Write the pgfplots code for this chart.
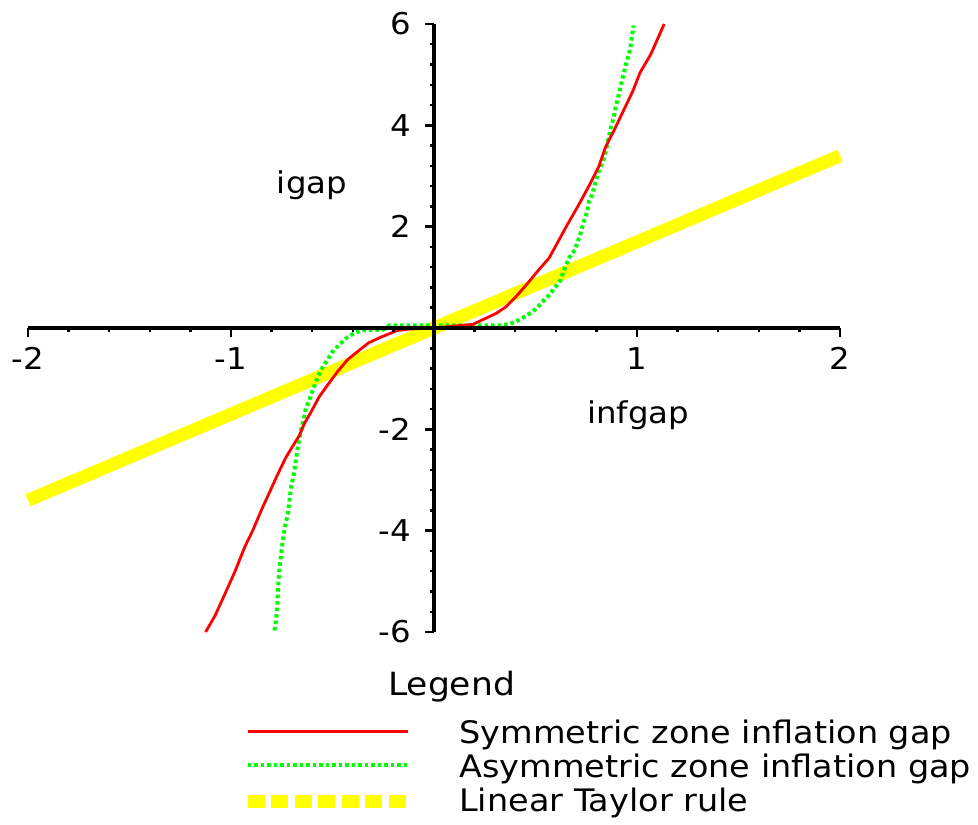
\documentclass[border=0pt]{standalone}
\usepackage{fontspec}
\setmainfont{DejaVu Sans}[FakeStretch=1.08]
\usepackage{pgfplots}
\pgfplotsset{compat=1.18}
\pgfplotsset{legend image code/.code={\draw[#1] (0pt,4pt) -- (160pt,4pt);}}
\definecolor{mred}{RGB}{255,0,0}
\definecolor{mgreen}{RGB}{0,255,0}
\definecolor{myellow}{RGB}{255,255,0}
\newcommand{\bigfont}{\fontsize{30}{36}\selectfont}
\newcommand{\legfont}{\fontsize{31}{36}\selectfont}
\begin{document}
\begin{tikzpicture}
\useasboundingbox (-434pt,328pt) rectangle (544pt,-497pt);
\begin{axis}[
  anchor=origin, at={(0pt,0pt)},
  x=203pt, y=50.67pt,
  xmin=-2, xmax=2, ymin=-6, ymax=6,
  axis lines=middle,
  axis line style={-, line width=3.5pt, black},
  axis on top,
  clip=false,
  xtick={-2,-1,0,1,2}, ytick={-6,-4,-2,0,2,4,6},
  minor xtick={-2,-1.8,...,2}, minor ytick={-6,-5.6,...,6},
  tick align=outside,
  major tick length=9pt, minor tick length=4pt,
  every tick/.style={black, line width=2.5pt},
  /pgf/number format/assume math mode=true,
  xticklabel style={font=\bigfont, inner sep=0pt, anchor=north, yshift=-10pt},
  yticklabel style={font=\bigfont, inner sep=0pt, anchor=east, xshift=-14pt},
  legend style={at={(axis cs:-0.95,-7.74)}, anchor=north west, draw=none, fill=none,
    inner sep=0pt, font=\legfont, row sep=4pt, column sep=45pt,
    nodes={inner sep=0pt, text height=23pt, text depth=7pt}},
  legend cell align=left,
  reverse legend,
]
\addplot[myellow, line width=13pt,
  legend image code/.code={\draw[myellow, line width=13pt, dash pattern=on 17pt off 6.5pt] (0pt,2pt) -- (160pt,2pt);}]
  coordinates {(-2,-3.4) (2,3.4)};
\addlegendentry{Linear Taylor rule}
\addplot[mgreen, line width=4pt, dash pattern=on 3.5pt off 3pt]
  coordinates {
  (-0.786,-5.97) (-0.778,-5.78) (-0.773,-5.52) (-0.769,-5.25) (-0.766,-4.99)
  (-0.761,-4.73) (-0.753,-4.46) (-0.745,-4.20) (-0.733,-3.90) (-0.720,-3.67)
  (-0.712,-3.41) (-0.704,-3.14) (-0.692,-2.91) (-0.680,-2.61) (-0.671,-2.35)
  (-0.655,-2.02) (-0.641,-1.79) (-0.631,-1.58) (-0.615,-1.43) (-0.598,-1.23)
  (-0.576,-1.00) (-0.557,-0.83) (-0.530,-0.66) (-0.500,-0.47) (-0.476,-0.37)
  (-0.451,-0.27) (-0.427,-0.185) (-0.395,-0.105) (-0.36,-0.05) (-0.25,-0.03)
  (-0.22,0.05) (0.33,0.05) (0.372,0.08) (0.404,0.125) (0.437,0.20)
  (0.461,0.26) (0.486,0.32) (0.510,0.41) (0.535,0.52) (0.567,0.65)
  (0.600,0.82) (0.624,0.95) (0.641,1.15) (0.665,1.38) (0.694,1.54)
  (0.711,1.74) (0.722,1.87) (0.738,2.10) (0.755,2.30) (0.763,2.50)
  (0.779,2.63) (0.795,2.87) (0.812,3.10) (0.836,3.33) (0.852,3.59)
  (0.869,3.92) (0.885,4.15) (0.896,4.38) (0.913,4.65) (0.926,4.88)
  (0.942,5.14) (0.950,5.27) (0.967,5.50) (0.975,5.74) (0.983,5.97)};
\addlegendentry{Asymmetric zone inflation gap}
\addplot[mred, line width=2.8pt]
  coordinates {
  (-1.125,-6.0) (-1.079,-5.68) (-1.030,-5.25) (-0.981,-4.81) (-0.932,-4.32)
  (-0.892,-3.99) (-0.851,-3.60) (-0.810,-3.24) (-0.769,-2.88) (-0.729,-2.55)
  (-0.688,-2.28) (-0.663,-2.12) (-0.639,-1.89) (-0.606,-1.66) (-0.566,-1.36)
  (-0.525,-1.13) (-0.476,-0.865) (-0.427,-0.63) (-0.378,-0.47) (-0.321,-0.29)
  (-0.264,-0.185) (-0.215,-0.105) (-0.182,-0.05) (-0.12,-0.02) (0,0)
  (0.10,0.04) (0.19,0.07) (0.249,0.18) (0.307,0.29) (0.355,0.42)
  (0.404,0.62) (0.461,0.88) (0.510,1.12) (0.567,1.38) (0.616,1.74)
  (0.657,2.04) (0.714,2.44) (0.763,2.80) (0.812,3.19) (0.844,3.56)
  (0.893,3.95) (0.937,4.32) (0.980,4.68) (1.015,5.04) (1.069,5.41)
  (1.134,6.0)};
\addlegendentry{Symmetric zone inflation gap}
\node[font=\bigfont, anchor=base] at (axis cs:-0.601,2.66) {igap};
\node[font=\bigfont, anchor=base] at (axis cs:1.005,-1.875) {infgap};
\node[font=\fontsize{32}{36}\selectfont, anchor=base west, inner sep=0pt] at (axis cs:-0.227,-7.243) {Legend};
\end{axis}
\end{tikzpicture}
\end{document}
